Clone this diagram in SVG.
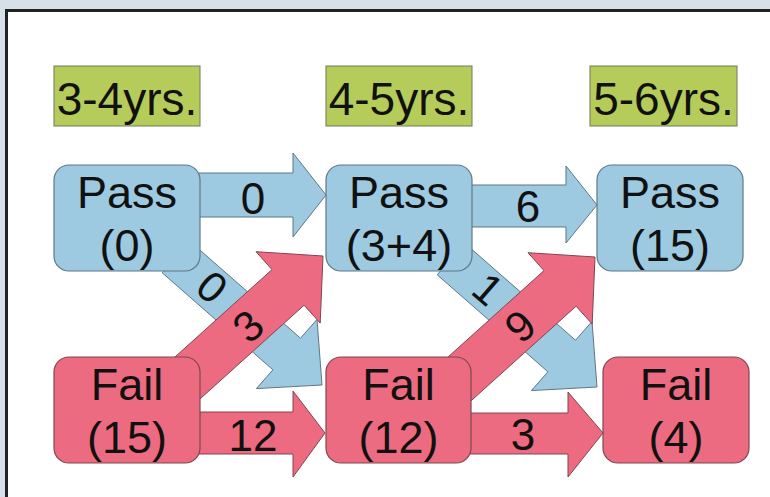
<svg xmlns="http://www.w3.org/2000/svg" width="770" height="497" viewBox="0 0 770 497">
<style>
  .bg{fill:#d7dfe7}
  .frame{fill:#ffffff;stroke:#222222;stroke-width:3}
  .yr rect{fill:#b5cc5b;stroke:#6f7a5a;stroke-width:1}
  .pass rect{fill:#9dc9e1;stroke:#5f7784;stroke-width:1.2}
  .fail rect{fill:#ed6b81;stroke:#7f4650;stroke-width:1.2}
  .ab{fill:#9dc9e1;stroke:#5f7784;stroke-width:1}
  .ar{fill:#ed6b81;stroke:#7f4650;stroke-width:1}
  text{font-family:"Liberation Sans",Arial,Helvetica,sans-serif;fill:#111111;text-anchor:middle}
  .t46{font-size:46px}
  .t45{font-size:45px}
  .t44{font-size:44px}
  .t43{font-size:43px}
</style>
<rect class="bg" x="0" y="0" width="770" height="497"/>
<rect class="frame" x="6.5" y="10.5" width="820" height="540"/>

<g id="connectors">
  <polygon id="c-p0-f12" class="ab" points="189.8,241.2 300.5,338.2 317,319.4 322,385 256.4,388.6 272.9,369.8 162.2,272.8"/>
  <polygon id="c-p34-f4" class="ab" transform="translate(275,2)" points="189.8,241.2 300.5,338.2 317,319.4 322,385 256.4,388.6 272.9,369.8 162.2,272.8"/>
  <polygon id="c-f15-p34" class="ar" points="158.3,372.0 272.0,269.6 256,251.7 323,256 320.2,323.1 304.1,305.2 190.4,407.6"/>
  <polygon id="c-f12-p15" class="ar" transform="translate(272,1)" points="158.3,372.0 272.0,269.6 256,251.7 323,256 320.2,323.1 304.1,305.2 190.4,407.6"/>
  <polygon id="c-p0-p34" class="ab" points="190,173 293,173 293,153 326,195 293,237 293,217 190,217"/>
  <polygon id="c-p34-p15" class="ab" points="462,185 566,185 566,166 597,205 566,243 566,227 462,227"/>
  <polygon id="c-f15-f12" class="ar" points="190,412 293,412 293,391 325,433 293,477 293,454 190,454"/>
  <polygon id="c-f12-f4" class="ar" points="462,413 568,413 568,392 603,433 568,477 568,454 462,454"/>
  <text class="t44" x="253" y="214">0</text>
  <text class="t44" x="528" y="222">6</text>
  <text class="t44" x="253" y="451">12</text>
  <text class="t44" x="523" y="450">3</text>
  <text class="t43" transform="translate(212,287) rotate(41)" y="15">0</text>
  <text class="t43" transform="translate(488,289) rotate(41)" y="15">1</text>
  <text class="t43" transform="translate(248,326) rotate(-42)" y="15">3</text>
  <text class="t43" transform="translate(520,326) rotate(-42)" y="15">9</text>
</g>

<g id="yr34" class="yr"><rect x="54" y="66" width="146" height="60"/><text class="t46" x="127" y="115">3-4yrs.</text></g>
<g id="yr45" class="yr"><rect x="326" y="66" width="146" height="60"/><text class="t46" x="399" y="115">4-5yrs.</text></g>
<g id="yr56" class="yr"><rect x="590" y="66" width="147" height="60"/><text class="t46" x="663.5" y="115">5-6yrs.</text></g>

<g id="pass0" class="pass"><rect x="54" y="165" width="146" height="106" rx="15"/><text class="t45" x="127" y="208">Pass</text><text class="t45" x="127" y="261">(0)</text></g>
<g id="pass34" class="pass"><rect x="326" y="165" width="146" height="106" rx="15"/><text class="t45" x="399" y="208">Pass</text><text class="t45" x="399" y="261">(3+4)</text></g>
<g id="pass15" class="pass"><rect x="597" y="165" width="146" height="106" rx="15"/><text class="t45" x="670" y="208">Pass</text><text class="t45" x="670" y="261">(15)</text></g>

<g id="fail15" class="fail"><rect x="54" y="357" width="146" height="106" rx="15"/><text class="t45" x="127" y="400">Fail</text><text class="t45" x="127" y="453">(15)</text></g>
<g id="fail12" class="fail"><rect x="326" y="357" width="145" height="106" rx="15"/><text class="t45" x="398.5" y="400">Fail</text><text class="t45" x="398.5" y="453">(12)</text></g>
<g id="fail4" class="fail"><rect x="603" y="357" width="146" height="106" rx="15"/><text class="t45" x="676" y="400">Fail</text><text class="t45" x="676" y="453">(4)</text></g>
</svg>
